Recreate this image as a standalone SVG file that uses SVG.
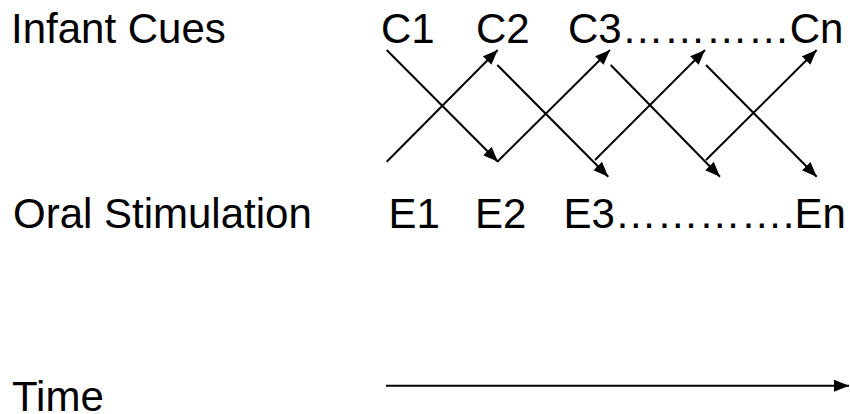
<svg xmlns="http://www.w3.org/2000/svg" width="850" height="414" viewBox="0 0 850 414">
<style>
text{font-family:"Liberation Sans",Arial,sans-serif;font-size:42px;fill:#000}
.c{stroke:#000;stroke-width:2;fill:none;marker-end:url(#ah)}
</style>
<defs>
<marker id="ah" markerUnits="userSpaceOnUse" markerWidth="17" markerHeight="14" refX="15" refY="6" orient="auto" viewBox="0 0 17 14">
<path d="M0,0 L15,6 L0,12 z" fill="#000"/>
</marker>
</defs>
<g id="label-infant"><text x="11" y="43">Infant Cues</text></g>
<g id="label-oral"><text x="13" y="228">Oral Stimulation</text></g>
<g id="label-time"><text x="12" y="411">Time</text></g>
<g id="cues"><text y="43"><tspan x="381">C1</tspan><tspan x="476">C2</tspan><tspan x="568">C3…………Cn</tspan></text></g>
<g id="events"><text y="228"><tspan x="388.5">E1</tspan><tspan x="475">E2</tspan><tspan x="563.5">E3………….En</tspan></text></g>
<g id="connectors">
<line class="c" x1="386.7" y1="50" x2="498" y2="161.7"/>
<line class="c" x1="386.7" y1="161.7" x2="497.7" y2="50"/>
<line class="c" x1="497.3" y1="65" x2="608.3" y2="176.7"/>
<line class="c" x1="497.3" y1="161.7" x2="610" y2="50"/>
<line class="c" x1="595" y1="160" x2="705" y2="50"/>
<line class="c" x1="610.7" y1="65" x2="720" y2="176.7"/>
<line class="c" x1="706" y1="160" x2="816.7" y2="50"/>
<line class="c" x1="706" y1="65" x2="816.7" y2="176.7"/>
<line class="c" x1="386" y1="385.7" x2="849" y2="385.7" stroke-width="2.3"/>
</g>
</svg>
